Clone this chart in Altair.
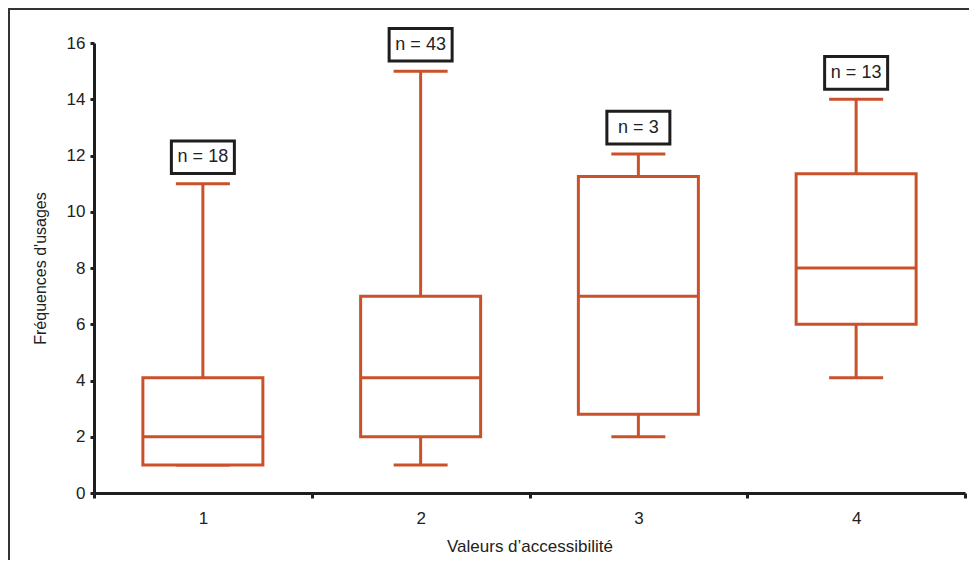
import altair as alt
import pandas as pd

# ---- data ----
categories = ["1", "2", "3", "4"]
whisker_low = [1.0, 1.0, 2.0, 4.1]
quartile_1 = [1.0, 2.0, 2.8, 6.0]
medians = [2.0, 4.1, 7.0, 8.0]
quartile_3 = [4.1, 7.0, 11.25, 11.35]
whisker_high = [11.0, 15.0, 12.05, 14.0]
counts = [18, 43, 3, 13]
y_ticks = [0, 2, 4, 6, 8, 10, 12, 14, 16]

df = pd.DataFrame({
    "cat": categories,
    "wlo": whisker_low,
    "q1": quartile_1,
    "med": medians,
    "q3": quartile_3,
    "whi": whisker_high,
    "n": counts,
})
df["label"] = ["n = " + str(c) for c in counts]
df["lab_lo"] = df["whi"] + 0.36
df["lab_hi"] = df["whi"] + 1.52
df["lab_mid"] = (df["lab_lo"] + df["lab_hi"]) / 2

ORANGE = "#C9522A"
DARK = "#1e1e1e"
TXT = "#222222"
FONT = "Liberation Sans"

x_enc = alt.X(
    "cat:N",
    sort=categories,
    scale=alt.Scale(paddingInner=0, paddingOuter=0),
    axis=alt.Axis(
        title="Valeurs d’accessibilité",
        labelAngle=0,
        tickBand="extent",
        tickSize=5,
        labelPadding=12,
        titlePadding=12,
        titleFontSize=17,
        labelFontSize=17,
    ),
)
y_scale = alt.Scale(domain=[0, 16], nice=False, zero=True)
y_axis = alt.Axis(
    title="Fréquences d'usages",
    values=y_ticks,
    tickSize=4,
    labelPadding=5,
    titlePadding=18,
    titleFontSize=16,
    labelFontSize=17,
    grid=False,
)

base = alt.Chart(df)

whisker = base.mark_rule(color=ORANGE, strokeWidth=3).encode(
    x=x_enc,
    y=alt.Y("wlo:Q", scale=y_scale, axis=y_axis),
    y2="whi:Q",
)
caps_hi = base.mark_tick(color=ORANGE, size=54, thickness=3, opacity=1).encode(
    x=x_enc, y=alt.Y("whi:Q", scale=y_scale)
)
caps_lo = base.mark_tick(color=ORANGE, size=54, thickness=3, opacity=1).encode(
    x=x_enc, y=alt.Y("wlo:Q", scale=y_scale)
)
box = base.mark_bar(size=120, fill="white", stroke=ORANGE, strokeWidth=3).encode(
    x=x_enc, y=alt.Y("q1:Q", scale=y_scale), y2="q3:Q"
)
med = base.mark_tick(color=ORANGE, size=120, thickness=3, opacity=1).encode(
    x=x_enc, y=alt.Y("med:Q", scale=y_scale)
)
lab_box = base.mark_bar(size=63, fill="white", stroke=DARK, strokeWidth=3).encode(
    x=x_enc, y=alt.Y("lab_lo:Q", scale=y_scale), y2="lab_hi:Q"
)
lab_txt = base.mark_text(fontSize=18, color=TXT, font=FONT, baseline="middle").encode(
    x=x_enc, y=alt.Y("lab_mid:Q", scale=y_scale), text="label:N"
)

# page frame decoration (top rule and left rule of the surrounding frame)
frame_top = alt.Chart(pd.DataFrame({"k": [0]})).mark_rule(color="#333333", strokeWidth=2).encode(
    x=alt.value(-86), x2=alt.value(885), y=alt.value(-34)
)
frame_left = alt.Chart(pd.DataFrame({"k": [0]})).mark_rule(color="#333333", strokeWidth=2).encode(
    x=alt.value(-85), y=alt.value(-34), y2=alt.value(530)
)

chart = (
    alt.layer(whisker, caps_hi, caps_lo, box, med, lab_box, lab_txt, frame_top, frame_left)
    .properties(
        width=871,
        height=450,
        autosize=alt.AutoSizeParams(type="none"),
        padding={"left": 86, "top": 35, "right": 4, "bottom": 67},
    )
    .configure_view(stroke=None)
    .configure_axis(
        domainColor=DARK,
        domainWidth=3,
        tickColor=DARK,
        tickWidth=3,
        labelColor=TXT,
        titleColor=TXT,
        labelFont=FONT,
        titleFont=FONT,
        titleFontWeight="normal",
    )
)

chart.save("out.html", embed_options={"renderer": "svg", "actions": False})
